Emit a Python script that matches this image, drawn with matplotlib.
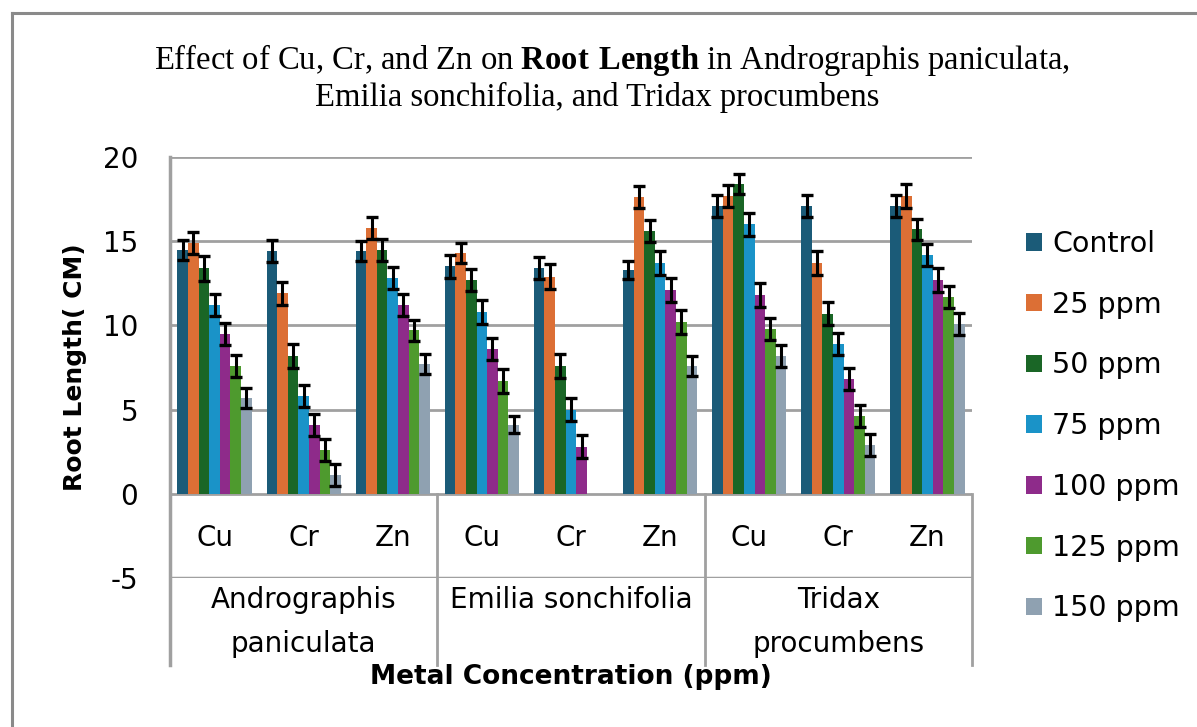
import numpy as np
import matplotlib
matplotlib.use("Agg")
import matplotlib.pyplot as plt
from matplotlib.patches import Patch
from matplotlib.lines import Line2D
import matplotlib.transforms as mtransforms

plt.rcParams['font.family'] = ['DejaVu Sans']
plt.rcParams['axes.unicode_minus'] = False
plt.rcParams['mathtext.fontset'] = 'custom'
plt.rcParams['mathtext.rm'] = 'Liberation Serif'
plt.rcParams['mathtext.bf'] = 'Liberation Serif:bold'

species = ["Andrographis\npaniculata", "Emilia sonchifolia", "Tridax\nprocumbens"]
metals = ["Cu", "Cr", "Zn", "Cu", "Cr", "Zn", "Cu", "Cr", "Zn"]
doses = ["Control", "25 ppm", "50 ppm", "75 ppm", "100 ppm", "125 ppm", "150 ppm"]

control = [14.5, 14.4, 14.4, 13.5, 13.4, 13.3, 17.1, 17.1, 17.1]
ppm25 = [14.9, 11.9, 15.8, 14.3, 12.9, 17.6, 17.7, 13.7, 17.7]
ppm50 = [13.4, 8.2, 14.5, 12.7, 7.6, 15.6, 18.4, 10.7, 15.7]
ppm75 = [11.2, 5.8, 12.8, 10.8, 5.0, 13.7, 16.0, 8.9, 14.2]
ppm100 = [9.5, 4.1, 11.2, 8.6, 2.8, 12.1, 11.8, 6.8, 12.7]
ppm125 = [7.6, 2.6, 9.7, 6.7, np.nan, 10.2, 9.8, 4.6, 11.7]
ppm150 = [5.7, 1.1, 7.7, 4.1, np.nan, 7.6, 8.2, 2.9, 10.1]

err_control = [0.6, 0.65, 0.6, 0.7, 0.65, 0.55, 0.65, 0.65, 0.65]
err25 = [0.65, 0.7, 0.65, 0.6, 0.75, 0.65, 0.65, 0.7, 0.7]
err50 = [0.75, 0.7, 0.65, 0.65, 0.7, 0.65, 0.6, 0.7, 0.6]
err75 = [0.65, 0.65, 0.65, 0.7, 0.7, 0.7, 0.7, 0.65, 0.65]
err100 = [0.65, 0.65, 0.65, 0.65, 0.7, 0.7, 0.7, 0.65, 0.7]
err125 = [0.65, 0.65, 0.65, 0.7, np.nan, 0.7, 0.65, 0.65, 0.65]
err150 = [0.6, 0.65, 0.6, 0.5, np.nan, 0.6, 0.65, 0.65, 0.65]

values = [control, ppm25, ppm50, ppm75, ppm100, ppm125, ppm150]
errors = [err_control, err25, err50, err75, err100, err125, err150]
colors = ["#1b5b78", "#dc6f35", "#1a6626", "#1a93c8", "#8e2b8a", "#4e9a2e", "#8fa1b1"]

W, H = 1197, 727
fig = plt.figure(figsize=(W / 100, H / 100), dpi=100)
ax = fig.add_axes([170 / W, 1 - 578 / H, 802 / W, 421 / H])

x = np.arange(len(metals))
bw = 0.119
for i, (vals, errs, col, lab) in enumerate(zip(values, errors, colors, doses)):
    pos = x + (i - 3) * bw
    ax.bar(pos, vals, bw, color=col, label=lab, zorder=2)
    ax.errorbar(pos, vals, yerr=errs, fmt="none", ecolor="black",
                elinewidth=2.2, capsize=4.5, capthick=2.4, zorder=3)

ax.set_xlim(-0.5, len(metals) - 0.5)
ax.set_ylim(-5, 20)
ax.set_yticks([-5, 0, 5, 10, 15, 20])
ax.set_xticks([])
ax.tick_params(axis="y", length=0, pad=23, labelsize=20)
for s in ax.spines.values():
    s.set_visible(False)

grid_c = "#a0a0a0"
for yv in [0, 5, 10, 15, 20]:
    ax.axhline(yv, color=grid_c, lw=2, zorder=1)
ax.axhline(-5, color=grid_c, lw=2.5, zorder=1)

# separators of the two-level category axis
tr = mtransforms.blended_transform_factory(ax.transData, ax.transAxes)
y0 = 5 / 25
ybot = (578 - 665) / 421
ax.plot([-0.5, -0.5], [1, ybot], color=grid_c, lw=2.5, transform=tr, clip_on=False)
for b in [2.5, 5.5, 8.5]:
    ax.plot([b, b], [y0, ybot], color=grid_c, lw=2, transform=tr, clip_on=False)

for xi, m in zip(x, metals):
    ax.text(xi, -2.6, m, ha="center", va="center", fontsize=20)

for k, sp in enumerate(species):
    xc = 3 * k + 1
    for j, line in enumerate(sp.split("\n")):
        yp = (578 - (600 + 44 * j)) / 421
        ax.text(xc, yp, line, ha="center", va="center", fontsize=20,
                transform=tr, clip_on=False)

fig.text(571 / W, 1 - 677 / H, "Metal Concentration (ppm)", ha="center", va="center",
         fontsize=19, fontweight="bold")
fig.text(75 / W, 1 - 367 / H, "Root Length( CM)", ha="center", va="center",
         rotation=90, fontsize=18, fontweight="bold")

fig.text(612 / W, 1 - 60 / H,
         r"Effect of Cu, Cr, and Zn on $\mathbf{Root\ Length}$ in Andrographis paniculata,",
         ha="center", va="center", fontsize=23.5, family="Liberation Serif")
fig.text(597 / W, 1 - 97 / H, "Emilia sonchifolia, and Tridax procumbens",
         ha="center", va="center", fontsize=23.5, family="Liberation Serif")

handles = [Patch(facecolor=c, edgecolor="none") for c in colors]
fig.legend(handles, doses, loc="upper left", bbox_to_anchor=(1026 / W, 1 - 230 / H),
           frameon=False, fontsize=20.5, handlelength=0.56, handleheight=0.56,
           handletextpad=0.35, labelspacing=1.15, borderpad=0, borderaxespad=0)

# outer chart border (left and top edges visible)
border_c = "#8a8a8a"
fig.add_artist(Line2D([12 / W, 12 / W], [0, 1 - 13 / H], color=border_c, lw=2.2))
fig.add_artist(Line2D([12 / W, 1], [1 - 13 / H, 1 - 13 / H], color=border_c, lw=2.2))

fig.savefig("out.png", dpi=100)
